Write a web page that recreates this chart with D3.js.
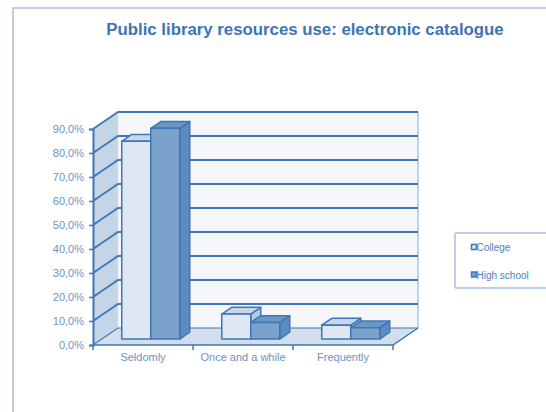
<!DOCTYPE html>
<html><head><meta charset="utf-8">
<script src="https://cdn.jsdelivr.net/npm/d3@7"></script>
<style>body{margin:0;background:#fff}svg{display:block}</style>
</head><body>
<script>
const categories = ["Seldomly", "Once and a while", "Frequently"];
const seriesNames = ["College", "High school"];
const college = [82.4, 10.4, 5.8];
const highSchool = [87.8, 6.9, 4.7];
const yTicks = [0, 10, 20, 30, 40, 50, 60, 70, 80, 90];
const yTickLabels = ["0,0%", "10,0%", "20,0%", "30,0%", "40,0%", "50,0%", "60,0%", "70,0%", "80,0%", "90,0%"];
const title = "Public library resources use: electronic catalogue";

const W = 546, H = 412;
const svg = d3.select("body").append("svg").attr("width", W).attr("height", H);
const font = "'Liberation Sans', Arial, sans-serif";
const dark = "#3f77b6";

// outer frame
svg.append("rect").attr("x", 13).attr("y", 8).attr("width", 560).attr("height", 420)
  .attr("fill", "none").attr("stroke", "#a8c0dc").attr("stroke-width", 1.5);

svg.append("text").attr("x", 305).attr("y", 35).attr("text-anchor", "middle")
  .attr("font-family", font).attr("font-weight", "bold").attr("font-size", 16.8)
  .attr("fill", "#3d74b3").text(title);

const x0 = d3.scaleBand().domain(categories).range([93, 393]);
const y = d3.scaleLinear().domain([0, 90]).range([345, 129]);
const DX = 25, DY = -17;
const P = (x, v, f) => [x + DX * f, y(v) + DY * f];
const line = d3.line();

// left wall
svg.append("path").attr("d", line([P(93, 0, 0), P(93, 90, 0), P(93, 90, 1), P(93, 0, 1)]) + "Z")
  .attr("fill", "#c4d5e8").attr("stroke", "none");
// back wall
svg.append("path").attr("d", line([P(93, 0, 1), P(93, 90, 1), P(393, 90, 1), P(393, 0, 1)]) + "Z")
  .attr("fill", "#f4f6fa").attr("stroke", "none");
svg.append("path").attr("d", line([P(393, 90, 1), P(393, 0, 1)]))
  .attr("stroke", "#c3d4e8").attr("stroke-width", 2).attr("fill", "none");
// floor
svg.append("path").attr("d", line([P(93, 0, 0), P(393, 0, 0), P(393, 0, 1), P(93, 0, 1)]) + "Z")
  .attr("fill", "#d2deeb").attr("stroke", "none");
svg.append("path").attr("d", line([P(93, 0, 0), P(393, 0, 0), P(393, 0, 1)]))
  .attr("fill", "none").attr("stroke", dark).attr("stroke-width", 1.5);

// gridlines (left wall diagonals + back wall horizontals)
yTicks.forEach(v => {
  svg.append("path").attr("d", line([P(93, v, 0), P(93, v, 1), P(393, v, 1)]))
    .attr("fill", "none").attr("stroke", dark).attr("stroke-width", v === 0 ? 1.2 : 1.8);
});

// y axis
const yAxis = d3.axisLeft(y).tickValues(yTicks).tickFormat((d, i) => yTickLabels[i]).tickSize(4).tickPadding(5);
const ga = svg.append("g").attr("transform", "translate(93,0)").call(yAxis);
ga.select(".domain").attr("stroke", dark).attr("stroke-width", 2);
ga.selectAll(".tick line").attr("stroke", dark).attr("stroke-width", 1.5);
ga.selectAll("text").attr("font-family", font).attr("font-size", 11).attr("fill", "#6d92c0");

// x axis
const xAxis = d3.axisBottom(x0).tickSize(0).tickPadding(8);
const gx = svg.append("g").attr("transform", "translate(0,345)").call(xAxis);
gx.select(".domain").remove();
gx.selectAll("text").attr("font-family", font).attr("font-size", 11).attr("fill", "#6d92c0");
[93, 193, 293, 393].forEach(xx => {
  gx.append("line").attr("x1", xx).attr("x2", xx).attr("y1", 0).attr("y2", 5)
    .attr("stroke", dark).attr("stroke-width", 1.5);
});

// bars
const bw = x0.bandwidth();
const x1 = d3.scaleBand().domain(seriesNames).range([bw * 0.2, bw * 0.78]);
const fFront = 0.35, fBack = 0.75;
const colors = {
  "College": {front: "#dfe8f2", top: "#c8d8ea", side: "#b5cae2"},
  "High school": {front: "#7ba2cb", top: "#6a96c5", side: "#5c8bbf"}
};
const data = [];
categories.forEach((c, i) => {
  data.push({cat: c, s: "College", v: college[i]});
  data.push({cat: c, s: "High school", v: highSchool[i]});
});
data.forEach(d => {
  const xl = x0(d.cat) + x1(d.s), xr = xl + x1.bandwidth();
  const c = colors[d.s];
  const g = svg.append("g");
  const add = (pts, fill) => {
    g.append("path").attr("d", line(pts) + "Z").attr("fill", fill)
      .attr("stroke", dark).attr("stroke-width", 1.5).attr("stroke-linejoin", "round");
  };
  add([P(xr, 0, fFront), P(xr, 0, fBack), P(xr, d.v, fBack), P(xr, d.v, fFront)], c.side);
  add([P(xl, d.v, fFront), P(xr, d.v, fFront), P(xr, d.v, fBack), P(xl, d.v, fBack)], c.top);
  add([P(xl, 0, fFront), P(xr, 0, fFront), P(xr, d.v, fFront), P(xl, d.v, fFront)], c.front);
});

// legend
const lg = svg.append("g");
lg.append("rect").attr("x", 455).attr("y", 233).attr("width", 110).attr("height", 55)
  .attr("fill", "#fff").attr("stroke", "#a8c0dc").attr("stroke-width", 1.5).attr("rx", 1);
seriesNames.forEach((s, i) => {
  const yy = 247.5 + i * 27.5;
  lg.append("rect").attr("x", 471.5).attr("y", yy - 3).attr("width", 5).attr("height", 5)
    .attr("fill", colors[s].front).attr("stroke", dark).attr("stroke-width", 1.5);
  lg.append("text").attr("x", 476.5).attr("y", yy).attr("dy", "0.35em")
    .attr("font-family", font).attr("font-size", 10).attr("fill", "#4f7fb8").text(s);
});
</script>
</body></html>
